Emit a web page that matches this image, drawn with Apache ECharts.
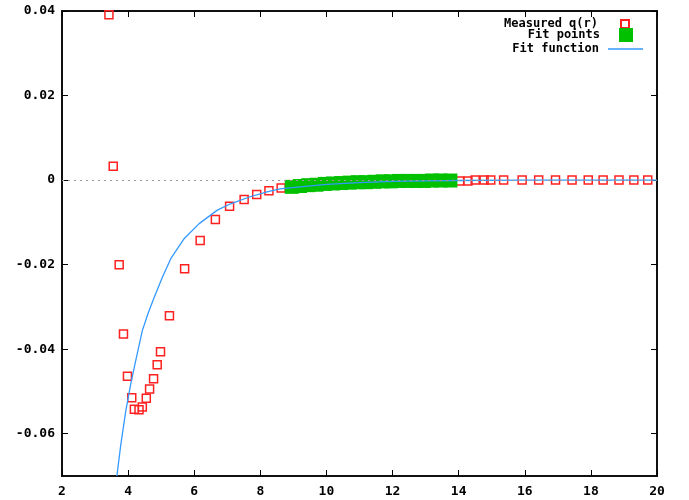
<!DOCTYPE html>
<html>
<head>
<meta charset="utf-8">
<script src="https://cdn.jsdelivr.net/npm/echarts@6/dist/echarts.min.js"></script>
<style>
  html, body { margin: 0; padding: 0; background: #fff; }
  #main { width: 689px; height: 500px; }
</style>
</head>
<body>
<div id="main"></div>
<script>
// measured q(r)
var measuredX = [3.42, 3.55, 3.73, 3.86, 3.98, 4.11, 4.19, 4.33, 4.43, 4.55, 4.65, 4.77, 4.88, 4.98, 5.25,
                 5.71, 6.18, 6.64, 7.07, 7.51, 7.89, 8.26, 8.63,
                 14.03, 14.28, 14.50, 14.77, 14.97, 15.36, 15.92, 16.42, 16.93, 17.43, 17.92, 18.37, 18.85, 19.30, 19.72];
var measuredY = [0.0391, 0.0033, -0.0200, -0.0364, -0.0464, -0.0515, -0.0542, -0.0543, -0.0537, -0.0516, -0.0494, -0.0470, -0.0437, -0.0406, -0.0321,
                 -0.0210, -0.0143, -0.0093, -0.0062, -0.0046, -0.0034, -0.0025, -0.0019,
                 -0.0002, -0.0002, 0.0000, 0.0000, 0.0000, 0.0000, 0.0000, 0.0000, 0.0000, 0.0000, 0.0000, 0.0000, 0.0000, 0.0000, 0.0000];

// points used in the fit
var fitX = [8.95, 9.20, 9.45, 9.70, 9.95, 10.20, 10.45, 10.70, 10.95, 11.20,
            11.45, 11.70, 11.95, 12.20, 12.45, 12.70, 12.95, 13.20, 13.45, 13.75];
var fitY = [-0.0016, -0.0014, -0.0012, -0.0011, -0.0009, -0.0008, -0.0007, -0.0006, -0.0005, -0.0005,
            -0.0004, -0.0003, -0.0003, -0.0002, -0.0002, -0.0002, -0.0002, -0.0001, -0.0001, -0.0001];

// fit function samples
var funcX = [3.66, 3.78, 3.93, 4.08, 4.23, 4.43, 4.60, 4.79, 5.04, 5.29, 5.70, 6.15, 6.70, 7.10, 7.67,
             8.20, 8.60, 9.20, 10.0, 11.0, 12.0, 13.0, 14.0, 16.0, 18.0, 20.0];
var funcY = [-0.0700, -0.0625, -0.0546, -0.0482, -0.0427, -0.0356, -0.0316, -0.0277, -0.0229, -0.0186, -0.0138, -0.0103, -0.0071, -0.0056, -0.0040,
             -0.0028, -0.0021, -0.0016, -0.0010, -0.0006, -0.0003, -0.0002, -0.0001, 0.0000, 0.0000, 0.0000];

var yTicks = [-0.06, -0.04, -0.02, 0, 0.02, 0.04];

function pairs(xs, ys) {
    var out = [];
    for (var i = 0; i < xs.length; i++) out.push([xs[i], ys[i]]);
    return out;
}

var font = 'DejaVu Sans Mono';
var chart = echarts.init(document.getElementById('main'));

var tick = { show: true, inside: true, length: 6, lineStyle: { color: '#000', width: 1 } };
var yTick = { show: true, inside: true, length: 6, customValues: yTicks, lineStyle: { color: '#000', width: 1 } };

var option = {
    animation: false,
    backgroundColor: '#fff',
    grid: { left: 62, right: 32, top: 11, bottom: 24, show: true, borderColor: '#111', borderWidth: 2, backgroundColor: 'transparent' },
    legend: [{
        data: ['Measured q(r)'], right: 59, top: 18, padding: 0, align: 'right', itemWidth: 8, itemHeight: 8,
        textStyle: { fontFamily: font, fontWeight: 'bold', fontSize: 12, color: '#000', padding: [0, 18, 0, 0] }
    }, {
        data: ['Fit points'], right: 56, top: 28, padding: 0, align: 'right', itemWidth: 14, itemHeight: 14,
        textStyle: { fontFamily: font, fontWeight: 'bold', fontSize: 12, color: '#000', padding: [0, 14, 0, 0] }
    }, {
        data: [{ name: 'Fit function', icon: 'rect' }], right: 46, top: 43, padding: 0, align: 'right', itemWidth: 35, itemHeight: 1.6,
        itemStyle: { color: '#3399ff' },
        textStyle: { fontFamily: font, fontWeight: 'bold', fontSize: 12, color: '#000', padding: [0, 4, 0, 0] }
    }],
    xAxis: [{
        type: 'value', min: 2, max: 20, interval: 2,
        axisLine: { show: false, onZero: false }, splitLine: { show: false }, axisTick: tick,
        axisLabel: { margin: 9, fontFamily: font, fontWeight: 'bold', fontSize: 13, color: '#000' }
    }, {
        type: 'value', position: 'top', min: 2, max: 20, interval: 2,
        axisLine: { show: false, onZero: false }, splitLine: { show: false }, axisTick: tick, axisLabel: { show: false }
    }],
    yAxis: [{
        type: 'value', min: -0.07, max: 0.04,
        axisLine: { show: false, onZero: false }, splitLine: { show: false },
        axisTick: yTick,
        axisLabel: {
            customValues: yTicks, margin: 7, fontFamily: font, fontWeight: 'bold', fontSize: 13, color: '#000',
            formatter: function (v) { return Math.abs(v) < 1e-9 ? '0' : v.toFixed(2); }
        }
    }, {
        type: 'value', position: 'right', min: -0.07, max: 0.04,
        axisLine: { show: false, onZero: false }, splitLine: { show: false },
        axisTick: yTick, axisLabel: { show: false }
    }],
    series: [{
        name: 'Measured q(r)',
        type: 'scatter',
        symbol: 'rect',
        symbolSize: 8,
        itemStyle: { color: 'transparent', borderColor: '#ff2020', borderWidth: 1.5, opacity: 1 },
        data: pairs(measuredX, measuredY),
        markLine: {
            silent: true, symbol: 'none', label: { show: false },
            lineStyle: { color: '#999', type: [2, 4], width: 1 },
            data: [{ yAxis: 0 }]
        },
        z: 2
    }, {
        name: 'Fit points',
        type: 'scatter',
        symbol: 'rect',
        symbolSize: 14,
        itemStyle: { color: '#00c000', opacity: 1 },
        data: pairs(fitX, fitY),
        z: 3
    }, {
        name: 'Fit function',
        type: 'line',
        symbol: 'none',
        lineStyle: { color: '#3399ff', width: 1.3 },
        itemStyle: { color: '#3399ff' },
        data: pairs(funcX, funcY),
        z: 4
    }]
};

chart.setOption(option);
</script>
</body>
</html>
